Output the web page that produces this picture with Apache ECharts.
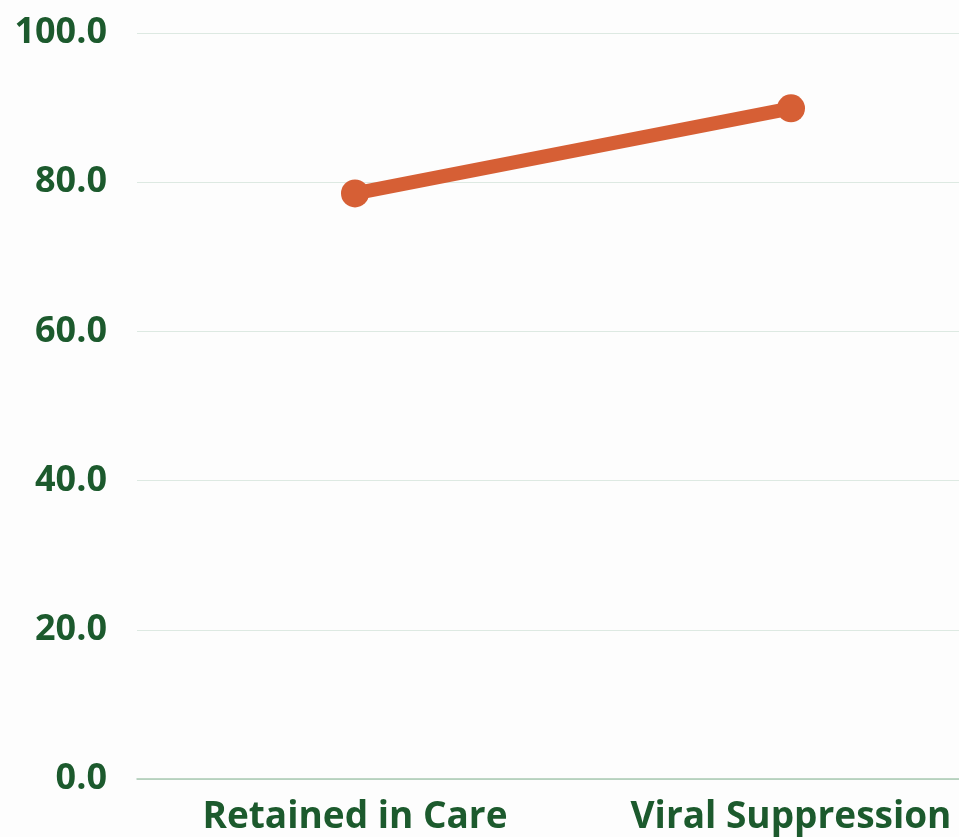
<!DOCTYPE html>
<html>
<head>
<meta charset="utf-8">
<script src="https://cdn.jsdelivr.net/npm/echarts@6/dist/echarts.min.js"></script>
<style>
  html, body { margin: 0; padding: 0; background: #fdfdfd; overflow: hidden; width: 959px; height: 837px; }
  /* plot runs past the right edge of the page, so the canvas is wider than the view */
  #chart { width: 1009px; height: 837px; }
</style>
</head>
<body>
<div id="chart"></div>
<script>
// Care cascade: share of people retained in care vs virally suppressed
const categories = ['Retained in Care', 'Viral Suppression'];
const values = [78.5, 89.9];

const textColor = '#1c5a2d';
const fontFamily = '"Open Sans", Lato, sans-serif';

const chart = echarts.init(document.getElementById('chart'), null, { renderer: 'canvas' });
chart.setOption({
  backgroundColor: '#fdfdfd',
  animation: false,
  grid: { left: 137, top: 33, right: 0, bottom: 58, containLabel: false },
  xAxis: {
    type: 'category',
    data: categories,
    boundaryGap: true,
    axisLine: { lineStyle: { color: '#a9c9b3', width: 1.5 } },
    axisTick: { show: false },
    axisLabel: {
      color: textColor, fontFamily: fontFamily, fontWeight: 'bold',
      fontSize: 37, margin: 20, interval: 0
    }
  },
  yAxis: {
    type: 'value',
    min: 0, max: 100, interval: 20,
    axisLine: { show: false },
    axisTick: { show: false },
    splitLine: { lineStyle: { color: '#dde9e2', width: 1 } },
    axisLabel: {
      color: textColor, fontFamily: fontFamily, fontWeight: 'bold',
      fontSize: 36, margin: 30,
      formatter: v => v.toFixed(1)
    }
  },
  series: [{
    type: 'line',
    data: values,
    symbol: 'circle',
    symbolSize: 28,
    lineStyle: { color: '#d65f35', width: 14 },
    itemStyle: { color: '#d65f35' }
  }]
});
</script>
</body>
</html>
